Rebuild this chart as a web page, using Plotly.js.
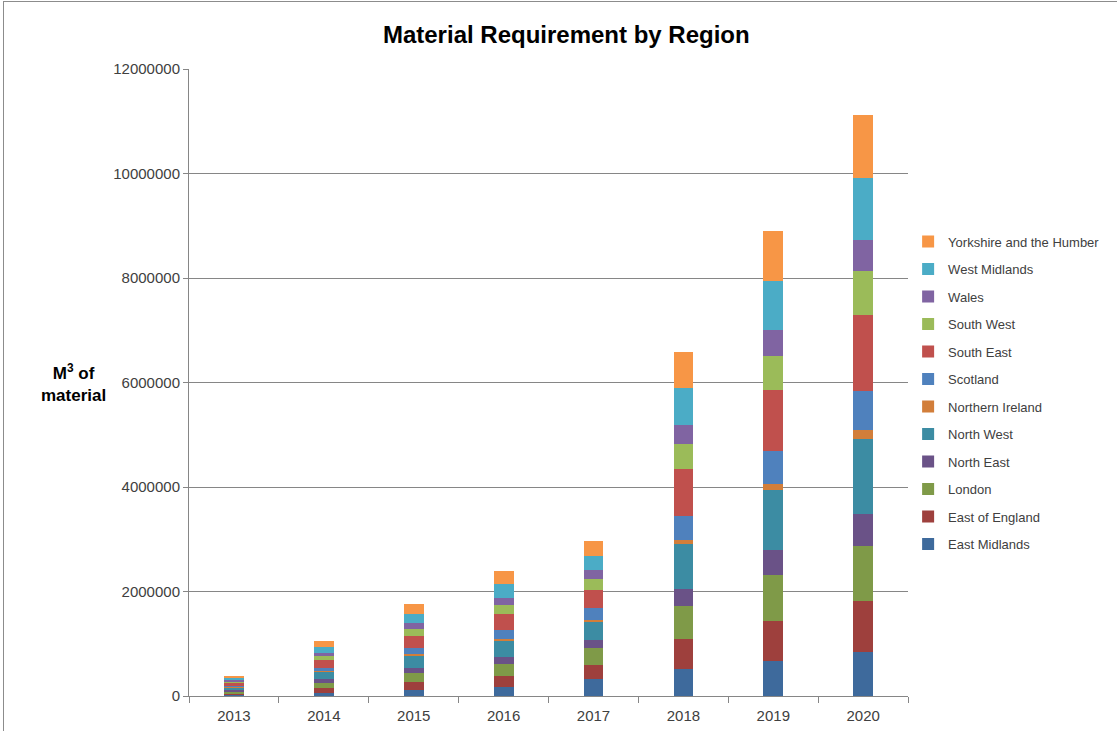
<!DOCTYPE html>
<html>
<head>
<meta charset="utf-8">
<script src="https://cdn.plot.ly/plotly-3.0.1.min.js"></script>
<style>
  html, body { margin: 0; padding: 0; background: #ffffff; }
  #frame { position: absolute; left: 3px; top: 1px; width: 1120px; height: 740px;
           border: 1px solid #8c8c8c; pointer-events: none; z-index: 5; }
  #chart { position: absolute; left: 0; top: 0; width: 1117px; height: 731px; }
</style>
</head>
<body>
<div id="chart"></div>
<div id="frame"></div>
<script>
// Years on the category axis
const years = ['2013', '2014', '2015', '2016', '2017', '2018', '2019', '2020'];

// Material requirement (m³) per region and year
const eastMidlands    = [21000, 60000, 115000, 173000, 326000, 510000, 677000, 850000];
const eastOfEngland   = [35000, 96000, 153000, 211000, 268000, 574000, 767000, 959000];
const london          = [35000, 96000, 173000, 230000, 326000, 637000, 863000, 1055000];
const northEast       = [28000, 77000, 96000, 134000, 153000, 320000, 479000, 614000];
const northWest       = [48000, 134000, 230000, 307000, 345000, 867000, 1150000, 1438000];
const northernIreland = [7000, 19000, 38000, 38000, 38000, 84000, 128000, 173000];
const scotland        = [21000, 58000, 115000, 173000, 224000, 452000, 619000, 748000];
const southEast       = [55000, 153000, 230000, 307000, 351000, 894000, 1170000, 1457000];
const southWest       = [28000, 77000, 134000, 173000, 211000, 478000, 652000, 844000];
const wales           = [21000, 58000, 115000, 134000, 173000, 364000, 499000, 594000];
const westMidlands    = [41000, 115000, 173000, 262000, 268000, 714000, 940000, 1189000];
const yorkshire       = [41000, 115000, 192000, 255000, 288000, 689000, 959000, 1208000];

const regionNames = ['East Midlands', 'East of England', 'London', 'North East', 'North West',
  'Northern Ireland', 'Scotland', 'South East', 'South West', 'Wales', 'West Midlands',
  'Yorkshire and the Humber'];
const regionValues = [eastMidlands, eastOfEngland, london, northEast, northWest, northernIreland,
  scotland, southEast, southWest, wales, westMidlands, yorkshire];
const regionColors = ['#3e6a9c', '#9e403d', '#7f9a48', '#6a5287', '#3c8ca3', '#d27e3a',
  '#4f81bd', '#c0504d', '#9bbb59', '#8064a2', '#4bacc6', '#f79646'];

// Stack bottom-up in region order; list the legend top-down (last region first)
const traces = regionNames.map((name, i) => ({
  type: 'bar',
  name: name,
  x: years,
  y: regionValues[i],
  legendgroup: 'g' + i,
  legendrank: regionNames.length - i,
  marker: { color: regionColors[i], line: { width: 0 } },
  hoverinfo: 'x+y+name'
}));

const layout = {
  width: 1117,
  height: 731,
  margin: { l: 189, r: 207, t: 69, b: 35 },
  paper_bgcolor: '#ffffff',
  plot_bgcolor: '#ffffff',
  barmode: 'stack',
  bargap: 0.78,
  font: { family: 'Liberation Sans, Arial, sans-serif', color: '#404040' },
  title: {
    text: 'Material Requirement by Region',
    font: { family: 'Liberation Sans, Arial, sans-serif', size: 24, color: '#000000', weight: 'bold' },
    x: 0.507, xref: 'container', xanchor: 'center',
    y: 35, yref: 'container', yanchor: 'middle'
  },
  xaxis: {
    type: 'category',
    showgrid: false,
    showline: true,
    linecolor: '#868686',
    linewidth: 1,
    ticks: 'outside',
    tickson: 'boundaries',
    ticklen: 6,
    tickcolor: '#868686',
    ticklabelstandoff: 6,
    tickfont: { size: 15, color: '#404040' }
  },
  yaxis: {
    range: [0, 12000000],
    dtick: 2000000,
    tickformat: 'd',
    showgrid: true,
    gridcolor: '#868686',
    gridwidth: 1,
    showline: true,
    linecolor: '#868686',
    ticks: 'outside',
    ticklen: 5,
    tickcolor: '#868686',
    tickfont: { size: 15, color: '#404040' },
    zeroline: false
  },
  legend: {
    xref: 'container', yref: 'container',
    x: 0.813, xanchor: 'left',
    y: 0.690, yanchor: 'top',
    traceorder: 'grouped',
    tracegroupgap: 7.6,
    font: { size: 13, color: '#404040' },
    bgcolor: 'rgba(0,0,0,0)'
  },
  annotations: [{
    text: '<b>M<sup>3</sup> of<br>material</b>',
    xref: 'paper', yref: 'paper',
    x: -0.161, y: 0.5, xanchor: 'center', yanchor: 'middle',
    showarrow: false,
    align: 'center',
    font: { size: 17, color: '#000000' }
  }]
};

Plotly.newPlot('chart', traces, layout, { displayModeBar: false });
</script>
</body>
</html>
